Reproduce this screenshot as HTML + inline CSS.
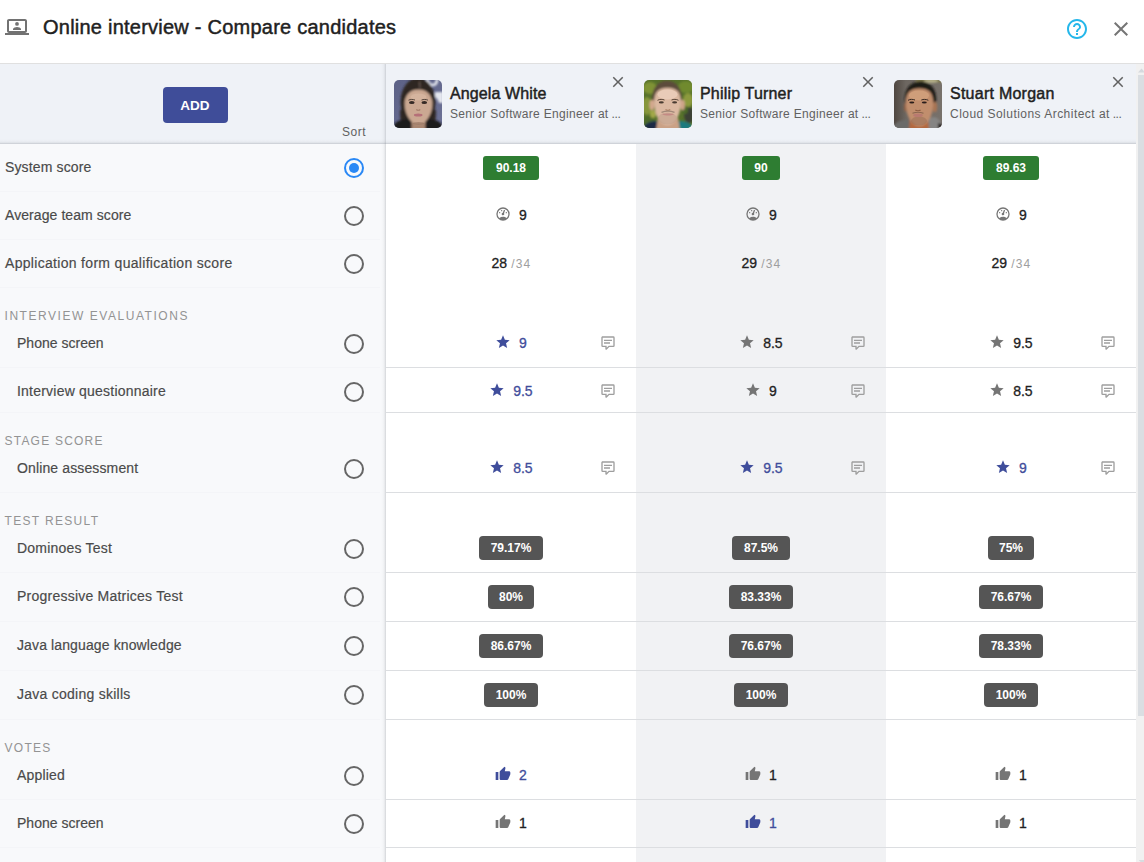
<!DOCTYPE html>
<html lang="en">
<head>
<meta charset="utf-8">
<title>Online interview - Compare candidates</title>
<style>
*{box-sizing:border-box;margin:0;padding:0}
html,body{width:1144px;height:862px;overflow:hidden;background:#fff}
body{position:relative;font-family:"Liberation Sans",sans-serif;font-size:14px;color:#212121}
.abs{position:absolute}
svg{display:block;position:absolute}
.t{position:absolute;white-space:nowrap;line-height:1}
/* title bar */
#title{left:43px;top:17px;font-size:20px;color:#212121;-webkit-text-stroke:.45px #212121;letter-spacing:.235px}
#topline{left:0;top:63px;width:1144px;height:1px;background:#e0e0e0}
/* header band */
#hdr{left:0;top:64px;width:1136px;height:80px;background:#eff2f7}
#hdrshadow{left:0;top:139px;width:1136px;height:5px;background:linear-gradient(to bottom,rgba(90,96,104,0) 0%,rgba(90,96,104,.008) 10%,rgba(90,96,104,.02) 30%,rgba(90,96,104,.045) 50%,rgba(90,96,104,.095) 70%,rgba(90,96,104,.21) 90%,rgba(90,96,104,.21) 100%)}
/* panels */
#left{left:0;top:144px;width:386px;height:718px;background:#f8f9fb}
#vshadow{left:381px;top:64px;width:5px;height:798px;background:linear-gradient(to right,rgba(90,96,104,0) 0%,rgba(90,96,104,.008) 10%,rgba(90,96,104,.02) 30%,rgba(90,96,104,.045) 50%,rgba(90,96,104,.095) 70%,rgba(90,96,104,.19) 90%,rgba(90,96,104,.19) 100%)}
#mid{left:636px;top:144px;width:250px;height:718px;background:#f1f2f4}
/* scrollbar */
#track{left:1136px;top:64px;width:8px;height:798px;background:#f1f1f1}
#thumb{left:1138px;top:75px;width:6px;height:641px;background:#dadee2}
.hl{position:absolute;left:386px;width:750px;height:1px;background:#dcdee1}
.ll{position:absolute;left:0;width:380px;height:1px;background:#f4f5f8}
/* left labels */
.lab{font-size:14px;color:#4a4a4a;-webkit-text-stroke:.18px #4a4a4a}
.sec{font-size:12px;color:#939393}
.radio{position:absolute;left:344px;width:20px;height:20px;border:2px solid #666;border-radius:50%}
.radio.on{border-color:#2a88f5}
.radio.on::after{content:"";position:absolute;left:3px;top:3px;width:10px;height:10px;border-radius:50%;background:#2a88f5}
/* header cards */
.name{font-size:16px;color:#212121;-webkit-text-stroke:.45px #212121}
.sub{font-size:12px;color:#616161}
.av{position:absolute;top:80px;width:48px;height:48px;border-radius:5px;overflow:hidden}
/* cells */
.gb{position:absolute;height:24px;border-radius:3px;background:#2e7d32;color:#fff;font-weight:bold;font-size:12px;line-height:24px;text-align:center}
.db{position:absolute;height:24px;border-radius:4px;background:#555;color:#fff;font-weight:bold;font-size:12px;line-height:24px;text-align:center}
.v{font-size:14px;color:#212121;-webkit-text-stroke:.3px #212121}
.v.b{color:#3f4d9b;-webkit-text-stroke:.3px #3f4d9b}
.d{font-size:12px;color:#9e9e9e}
</style>
</head>
<body>
<!-- title bar -->
<svg class="abs" style="left:5px;top:15px" width="24" height="24" viewBox="0 0 24 24"><path fill="#727272" fill-rule="evenodd" d="M4 6H20V16H4ZM20 18C21.110 18 22 17.110 22 16V6C22 4.890 21.110 4 20 4H4C2.890 4 2 4.890 2 6V16C2 17.110 2.900 18 4 18H0V20H24V18Z"/><circle cx="12" cy="8.900" r="1.900" fill="#727272"/><path fill="#727272" d="M8 15v-1c0-1.330 2.670-2 4-2s4 .670 4 2v1z"/></svg>
<div class="t" id="title">Online interview - Compare candidates</div>
<svg style="left:1065px;top:17px" width="24" height="24" viewBox="0 0 24 24"><path fill="#25b7ea" d="M11 18h2v-2h-2v2zm1-16C6.48 2 2 6.48 2 12s4.480 10 10 10 10-4.480 10-10S17.520 2 12 2zm0 18c-4.410 0-8-3.590-8-8s3.590-8 8-8 8 3.590 8 8-3.590 8-8 8zm0-14c-2.210 0-4 1.790-4 4h2c0-1.100.9-2 2-2s2 .9 2 2c0 2-3 1.750-3 5h2c0-2.250 3-2.500 3-5 0-2.210-1.790-4-4-4z"/></svg>
<svg style="left:1109px;top:17px" width="24" height="24" viewBox="0 0 24 24"><path fill="#757575" d="M19 6.410L17.590 5 12 10.590 6.410 5 5 6.410 10.590 12 5 17.590 6.410 19 12 13.410 17.590 19 19 17.590 13.410 12z"/></svg>
<div class="abs" id="topline"></div>

<!-- backgrounds -->
<div class="abs" id="left"></div>
<div class="abs" id="mid"></div>
<div class="abs" id="hdr"></div>
<div class="abs" id="hdrshadow"></div>
<div class="abs" id="vshadow"></div>
<div class="abs" id="track"></div>
<div class="abs" id="thumb"></div>
<svg style="left:1138px;top:68px" width="6" height="5" viewBox="0 0 6 5"><path fill="#d5d9de" d="M0 4.500L3.500 0.500L7 4.500z"/></svg>

<svg style="left:1138px;top:859px" width="6" height="3" viewBox="0 0 6 3"><path fill="#d8dce0" d="M.800 1h7L4.300 5z"/></svg>
<div class="hl" style="top:367px"></div><div class="hl" style="top:412px"></div><div class="hl" style="top:492px"></div><div class="hl" style="top:572px"></div><div class="hl" style="top:621px"></div><div class="hl" style="top:670px"></div><div class="hl" style="top:719px"></div><div class="hl" style="top:799px"></div><div class="hl" style="top:847px"></div><div class="ll" style="top:191px"></div><div class="ll" style="top:239px"></div><div class="ll" style="top:287px"></div><div class="ll" style="top:367px"></div><div class="ll" style="top:412px"></div><div class="ll" style="top:492px"></div><div class="ll" style="top:572px"></div><div class="ll" style="top:621px"></div><div class="ll" style="top:670px"></div><div class="ll" style="top:719px"></div><div class="ll" style="top:799px"></div><div class="ll" style="top:847px"></div>
<div class="av" style="left:394px"><svg style="left:0;top:0" width="48" height="48" viewBox="0 0 48 48"><defs><filter id="bl0" x="-20%" y="-20%" width="140%" height="140%"><feGaussianBlur stdDeviation=".9"/></filter><filter id="bs0" x="-20%" y="-20%" width="140%" height="140%"><feGaussianBlur stdDeviation=".45"/></filter><linearGradient id="ga" x1="0" y1="0" x2="1" y2="1"><stop offset="0" stop-color="#5c6186"/><stop offset=".6" stop-color="#666b90"/><stop offset="1" stop-color="#6e7296"/></linearGradient></defs>
<rect width="48" height="48" fill="url(#ga)"/>
<g filter="url(#bl0)">
 <path d="M33 -1c1 4 3 6 6 6s4-3 4-6" fill="none" stroke="#e9ebf2" stroke-width="2.600"/>
 <path d="M41 12h8v11h-4c-1-3-2-5-4-6z" fill="#e4e6ee"/>
 <ellipse cx="24" cy="22" rx="17.500" ry="24" fill="#2d2521"/>
 <path d="M6 30c0 8 1 14 2 19h32c1-5 2-11 2-19z" fill="#2f2723"/>
 <path d="M-2 50c1-7 6-10 14-11l24 0c8 1 13 4 14 11z" fill="#1d1d1f"/>
 <path d="M17.500 36h14v14h-14z" fill="#a88570"/>
 <path d="M24.500 9.500C17 9.500 11.500 14 10.600 22C10.300 30 13 37.500 18 42C21 44.800 28 44.800 31 42C36 37.500 38.700 30 38.400 22C37.500 14 32 9.500 24.500 9.500Z" fill="#cba892"/>
 <path d="M25.500 1.500l.5 7" stroke="#6b5a52" stroke-width="1.200"/>
</g>
<g filter="url(#bs0)">
 <ellipse cx="24.500" cy="17" rx="8" ry="3.500" fill="#d8b9a3" opacity=".7"/>
 <ellipse cx="17.800" cy="22.400" rx="2.800" ry="1.500" fill="#352925"/>
 <ellipse cx="30.300" cy="22.400" rx="2.800" ry="1.500" fill="#352925"/>
 <path d="M14.500 20.200c2-1 4.500-1 6.500-.2M27.500 20c2-.8 4.500-.8 6.500.2" stroke="#4a3a32" stroke-width=".9" fill="none"/>
 <path d="M22.300 29.500c1 .8 3 .8 4 0" stroke="#a37c68" stroke-width="1.100" fill="none"/>
 <ellipse cx="24.200" cy="35" rx="4.300" ry="1.500" fill="#b56f78"/>
 <ellipse cx="24.500" cy="43.500" rx="6" ry="1.400" fill="#8f6e5c" opacity=".55"/>
</g></svg></div><div class="t name" style="left:450px;top:85.800px;letter-spacing:0.112px">Angela White</div><div class="t sub" style="left:450px;top:107.500px;letter-spacing:0.312px">Senior Software Engineer at</div><div class="t sub" style="left:611.6px;top:107.500px;letter-spacing:-.4px">...</div><svg style="left:609px;top:73px" width="18" height="18" viewBox="0 0 24 24"><path fill="#616161" d="M19 6.410L17.590 5 12 10.590 6.410 5 5 6.410 10.590 12 5 17.590 6.410 19 12 13.410 17.590 19 19 17.590 13.410 12z"/></svg><div class="av" style="left:644px"><svg style="left:0;top:0" width="48" height="48" viewBox="0 0 48 48"><defs><filter id="bl1" x="-20%" y="-20%" width="140%" height="140%"><feGaussianBlur stdDeviation=".9"/></filter><filter id="bs1" x="-20%" y="-20%" width="140%" height="140%"><feGaussianBlur stdDeviation=".45"/></filter></defs>
<rect width="48" height="48" fill="#56712a"/>
<g filter="url(#bl1)">
 <ellipse cx="6" cy="8" rx="7" ry="6" fill="#7f9335"/>
 <ellipse cx="42" cy="7" rx="8" ry="6" fill="#6f8a2f"/>
 <ellipse cx="3" cy="26" rx="5" ry="9" fill="#86963a"/>
 <ellipse cx="44" cy="20" rx="5" ry="7" fill="#8c9a3c"/>
 <ellipse cx="5" cy="42" rx="6" ry="6" fill="#4d6a2a"/>
 <ellipse cx="9" cy="34" rx="3" ry="4" fill="#a3a848"/>
 <ellipse cx="45" cy="35" rx="5" ry="8" fill="#3a3f36"/>
 <ellipse cx="41" cy="30" rx="3" ry="4" fill="#4e6a2a"/>
 <path d="M-2 50c2-6 6-8 12-9l28 0c6 1 10 3 12 9z" fill="#1f7a7e"/>
 <path d="M-2 50c2-6 6-8 12-9l4 1 2 8z" fill="#1d2a44"/>
 <path d="M14 38h20l2 12H12z" fill="#caa186"/>
 <path d="M8.300 24C6.500 10 13 .8 23 .8S39.500 10 37.700 24z" fill="#5c4b3b"/>
 <ellipse cx="8" cy="25" rx="2.600" ry="5.200" fill="#d3a88e"/>
 <ellipse cx="38.500" cy="25" rx="2.400" ry="5.200" fill="#cfa48a"/>
 <path d="M23.500 7.800C15 7.800 10.600 12 10.200 20C10 27 11 33 14 38.500C17 43 20 45.300 23.500 45.300C27 45.300 30 43 33 38.500C36 33 37 27 36.800 20C36.400 12 32 7.800 23.500 7.800Z" fill="#dcb9a2"/>
</g>
<g filter="url(#bs1)">
 <ellipse cx="23.500" cy="14.500" rx="10" ry="5" fill="#ecd0bd" opacity=".8"/>
 <ellipse cx="23.500" cy="38.500" rx="9.500" ry="6" fill="#b79a88" opacity=".45"/>
 <ellipse cx="17.300" cy="22.400" rx="2.500" ry="1.100" fill="#4a3a30"/>
 <ellipse cx="30.600" cy="22.400" rx="2.500" ry="1.100" fill="#4a3a30"/>
 <path d="M13.500 20.300c2.200-1.200 5-1.200 7-.3M27.500 20c2-.9 4.800-.9 7 .3" stroke="#5a4436" stroke-width="1" fill="none"/>
 <path d="M21.500 29.500c1.200.9 3.600.9 4.800 0" stroke="#b08468" stroke-width="1.200" fill="none"/>
 <path d="M17.500 32.300c3.500-1.300 9.500-1.300 13 0" stroke="#a08878" stroke-width="1.300" fill="none"/>
 <path d="M18 34.200c3 1.800 9 1.800 12 0-3-.8-9-.8-12 0z" fill="#c48a84"/>
</g></svg></div><div class="t name" style="left:700px;top:85.800px;letter-spacing:0.181px">Philip Turner</div><div class="t sub" style="left:700px;top:107.500px;letter-spacing:0.312px">Senior Software Engineer at</div><div class="t sub" style="left:861.6px;top:107.500px;letter-spacing:-.4px">...</div><svg style="left:859px;top:73px" width="18" height="18" viewBox="0 0 24 24"><path fill="#616161" d="M19 6.410L17.590 5 12 10.590 6.410 5 5 6.410 10.590 12 5 17.590 6.410 19 12 13.410 17.590 19 19 17.590 13.410 12z"/></svg><div class="av" style="left:894px"><svg style="left:0;top:0" width="48" height="48" viewBox="0 0 48 48"><defs><filter id="bl2" x="-20%" y="-20%" width="140%" height="140%"><feGaussianBlur stdDeviation=".9"/></filter><filter id="bs2" x="-20%" y="-20%" width="140%" height="140%"><feGaussianBlur stdDeviation=".45"/></filter><linearGradient id="gs" x1="0" y1="0" x2="1" y2="0"><stop offset="0" stop-color="#4f4741"/><stop offset=".25" stop-color="#6d6761"/><stop offset="1" stop-color="#77716b"/></linearGradient></defs>
<rect width="48" height="48" fill="url(#gs)"/>
<g filter="url(#bl2)">
 <rect x="22" y="-2" width="28" height="4.500" fill="#7c774c"/>
 <ellipse cx="37" cy="1" rx="7" ry="1.800" fill="#b9b48c"/>
 <path d="M-2 50c2-7 6-9 12-10l28-2c6 1 10 4 12 12z" fill="#6b6a69"/>
 <path d="M33 38l8-1c4 2 7 5 8 13H33z" fill="#858483"/>
 <path d="M44 43l6 2v5h-6z" fill="#2a2422"/>
 <path d="M16 38h18l1 12H15z" fill="#b3693f"/>
 <path d="M11 24C9 10 16 1.600 26.500 1.600S44 10 41.800 25z" fill="#1f1a17"/>
 <ellipse cx="40.800" cy="27" rx="2.300" ry="5.200" fill="#a97453"/>
 <ellipse cx="11.500" cy="27" rx="1.600" ry="4.500" fill="#8f5f44"/>
 <path d="M25.300 8.200C17 8.200 12.200 12 11.800 21C11.700 29 13 35 16 40C19 44.300 22 46.300 25.300 46.300C28.600 46.300 32 44.300 35 40C38 35 39.200 29 39.200 21C38.800 12 34 8.200 25.300 8.200Z" fill="#c18e6d"/>
</g>
<g filter="url(#bs2)">
 <ellipse cx="25" cy="15.500" rx="10" ry="5" fill="#d3a27d" opacity=".8"/>
 <ellipse cx="25" cy="41" rx="8" ry="4.500" fill="#8a6450" opacity=".4"/>
 <ellipse cx="17.800" cy="22.500" rx="2.500" ry="1.100" fill="#2b1f1a"/>
 <ellipse cx="30.300" cy="22.500" rx="2.500" ry="1.100" fill="#2b1f1a"/>
 <path d="M14 20.300c2.200-1.200 5-1.200 7-.3M27.300 20c2-.9 4.800-.9 7 .3" stroke="#3a2a22" stroke-width="1" fill="none"/>
 <path d="M21.300 30c1.300.9 4 .9 5.300 0" stroke="#8f5f44" stroke-width="1.300" fill="none"/>
 <path d="M18.500 33.300c3-1.200 8-1.200 11 0" stroke="#8a6450" stroke-width="1.100" fill="none"/>
 <ellipse cx="24" cy="35.300" rx="4.800" ry="1.800" fill="#b97a70"/>
</g></svg></div><div class="t name" style="left:950px;top:85.800px;letter-spacing:0.251px">Stuart Morgan</div><div class="t sub" style="left:950px;top:107.500px;letter-spacing:0.468px">Cloud Solutions Architect at</div><div class="t sub" style="left:1112.7px;top:107.500px;letter-spacing:-.4px">...</div><svg style="left:1109px;top:73px" width="18" height="18" viewBox="0 0 24 24"><path fill="#616161" d="M19 6.410L17.590 5 12 10.590 6.410 5 5 6.410 10.590 12 5 17.590 6.410 19 12 13.410 17.590 19 19 17.590 13.410 12z"/></svg><div class="abs" style="left:163px;top:87px;width:65px;height:36px;border-radius:4px;background:#3f4d99"></div><div class="t" style="left:180.300px;top:98.900px;font-size:13.500px;font-weight:bold;color:#fff;{ls("ADD",13.5,31.4,True)}">ADD</div><div class="t" style="left:342px;top:126px;font-size:12px;color:#616161;letter-spacing:.55px">Sort</div>
<div class="t lab" style="left:5px;top:160px;letter-spacing:0.136px">System score</div><div class="radio on" style="top:158px"></div><div class="t lab" style="left:5px;top:208px;letter-spacing:0.075px">Average team score</div><div class="radio" style="top:206px"></div><div class="t lab" style="left:5px;top:256px;letter-spacing:0.310px">Application form qualification score</div><div class="radio" style="top:254px"></div><div class="t lab" style="left:17px;top:336px;letter-spacing:0.019px">Phone screen</div><div class="radio" style="top:334px"></div><div class="t lab" style="left:17px;top:384px;letter-spacing:0.219px">Interview questionnaire</div><div class="radio" style="top:382px"></div><div class="t lab" style="left:17px;top:461px;letter-spacing:0.128px">Online assessment</div><div class="radio" style="top:459px"></div><div class="t lab" style="left:17px;top:541px;letter-spacing:0.213px">Dominoes Test</div><div class="radio" style="top:539px"></div><div class="t lab" style="left:17px;top:589px;letter-spacing:0.232px">Progressive Matrices Test</div><div class="radio" style="top:587px"></div><div class="t lab" style="left:17px;top:638px;letter-spacing:0.122px">Java language knowledge</div><div class="radio" style="top:636px"></div><div class="t lab" style="left:17px;top:687px;letter-spacing:0.256px">Java coding skills</div><div class="radio" style="top:685px"></div><div class="t lab" style="left:17px;top:768px;letter-spacing:0.166px">Applied</div><div class="radio" style="top:766px"></div><div class="t lab" style="left:17px;top:816px;letter-spacing:0.019px">Phone screen</div><div class="radio" style="top:814px"></div><div class="t sec" style="left:4.500px;top:310px;letter-spacing:1.543px">INTERVIEW EVALUATIONS</div><div class="t sec" style="left:4.500px;top:435px;letter-spacing:1.221px">STAGE SCORE</div><div class="t sec" style="left:4.500px;top:515px;letter-spacing:1.326px">TEST RESULT</div><div class="t sec" style="left:4.500px;top:742px;letter-spacing:1.281px">VOTES</div>
<div class="gb" style="left:483px;top:156px;width:56px">90.18</div><div class="gb" style="left:742px;top:156px;width:38px">90</div><div class="gb" style="left:983px;top:156px;width:56px">89.63</div><svg style="left:495.0px;top:206.0px" width="16" height="16" viewBox="0 0 24 24"><path fill="#757575" d="M12,2A10,10 0 0,0 2,12A10,10 0 0,0 12,22A10,10 0 0,0 22,12A10,10 0 0,0 12,2M12,4A8,8 0 0,1 20,12C20,14.400 19,16.500 17.300,18C15.900,16.700 14,16 12,16C10,16 8.200,16.700 6.700,18C5,16.500 4,14.400 4,12A8,8 0 0,1 12,4M14,5.890C13.620,5.900 13.260,6.150 13.100,6.540L11.810,9.770L11.710,10C11,10.130 10.410,10.600 10.140,11.260C9.730,12.290 10.230,13.450 11.260,13.860C12.290,14.270 13.450,13.770 13.860,12.740C14.120,12.080 14,11.320 13.570,10.760L13.670,10.500L14.960,7.290L14.970,7.260C15.170,6.750 14.920,6.170 14.410,5.960C14.280,5.910 14.150,5.890 14,5.890M10,6A1,1 0 0,0 9,7A1,1 0 0,0 10,8A1,1 0 0,0 11,7A1,1 0 0,0 10,6M7,9A1,1 0 0,0 6,10A1,1 0 0,0 7,11A1,1 0 0,0 8,10A1,1 0 0,0 7,9M17,9A1,1 0 0,0 16,10A1,1 0 0,0 17,11A1,1 0 0,0 18,10A1,1 0 0,0 17,9Z"/></svg><div class="t v" style="left:519px;top:207.90px">9</div><svg style="left:745.0px;top:206.0px" width="16" height="16" viewBox="0 0 24 24"><path fill="#757575" d="M12,2A10,10 0 0,0 2,12A10,10 0 0,0 12,22A10,10 0 0,0 22,12A10,10 0 0,0 12,2M12,4A8,8 0 0,1 20,12C20,14.400 19,16.500 17.300,18C15.900,16.700 14,16 12,16C10,16 8.200,16.700 6.700,18C5,16.500 4,14.400 4,12A8,8 0 0,1 12,4M14,5.890C13.620,5.900 13.260,6.150 13.100,6.540L11.810,9.770L11.710,10C11,10.130 10.410,10.600 10.140,11.260C9.730,12.290 10.230,13.450 11.260,13.860C12.290,14.270 13.450,13.770 13.860,12.740C14.120,12.080 14,11.320 13.570,10.760L13.670,10.500L14.960,7.290L14.970,7.260C15.170,6.750 14.920,6.170 14.410,5.960C14.280,5.910 14.150,5.890 14,5.890M10,6A1,1 0 0,0 9,7A1,1 0 0,0 10,8A1,1 0 0,0 11,7A1,1 0 0,0 10,6M7,9A1,1 0 0,0 6,10A1,1 0 0,0 7,11A1,1 0 0,0 8,10A1,1 0 0,0 7,9M17,9A1,1 0 0,0 16,10A1,1 0 0,0 17,11A1,1 0 0,0 18,10A1,1 0 0,0 17,9Z"/></svg><div class="t v" style="left:769px;top:207.90px">9</div><svg style="left:995.0px;top:206.0px" width="16" height="16" viewBox="0 0 24 24"><path fill="#757575" d="M12,2A10,10 0 0,0 2,12A10,10 0 0,0 12,22A10,10 0 0,0 22,12A10,10 0 0,0 12,2M12,4A8,8 0 0,1 20,12C20,14.400 19,16.500 17.300,18C15.900,16.700 14,16 12,16C10,16 8.200,16.700 6.700,18C5,16.500 4,14.400 4,12A8,8 0 0,1 12,4M14,5.890C13.620,5.900 13.260,6.150 13.100,6.540L11.810,9.770L11.710,10C11,10.130 10.410,10.600 10.140,11.260C9.730,12.290 10.230,13.450 11.260,13.860C12.290,14.270 13.450,13.770 13.860,12.740C14.120,12.080 14,11.320 13.570,10.760L13.670,10.500L14.960,7.290L14.970,7.260C15.170,6.750 14.920,6.170 14.410,5.960C14.280,5.910 14.150,5.890 14,5.890M10,6A1,1 0 0,0 9,7A1,1 0 0,0 10,8A1,1 0 0,0 11,7A1,1 0 0,0 10,6M7,9A1,1 0 0,0 6,10A1,1 0 0,0 7,11A1,1 0 0,0 8,10A1,1 0 0,0 7,9M17,9A1,1 0 0,0 16,10A1,1 0 0,0 17,11A1,1 0 0,0 18,10A1,1 0 0,0 17,9Z"/></svg><div class="t v" style="left:1019px;top:207.90px">9</div><div class="t v" style="left:491.5px;top:256px">28</div><div class="t d" style="left:511.3px;top:258px;letter-spacing:1.1px">/34</div><div class="t v" style="left:741.5px;top:256px">29</div><div class="t d" style="left:761.3px;top:258px;letter-spacing:1.1px">/34</div><div class="t v" style="left:991.5px;top:256px">29</div><div class="t d" style="left:1011.3px;top:258px;letter-spacing:1.1px">/34</div><svg style="left:495.1px;top:334.2px" width="16" height="16" viewBox="0 0 24 24"><path fill="#3f4d9b" d="M12 17.270L18.180 21l-1.640-7.030L22 9.240l-7.190-.610L12 2 9.190 8.630 2 9.240l5.460 4.730L5.820 21z"/></svg><div class="t v b" style="left:519.07px;top:336.15px">9</div><svg style="left:600px;top:334.7px" width="16" height="16" viewBox="0 0 24 24"><path fill="#9e9e9e" d="M9,22A1,1 0 0,1 8,21V18H4A2,2 0 0,1 2,16V4C2,2.890 2.900,2 4,2H20A2,2 0 0,1 22,4V16A2,2 0 0,1 20,18H13.900L10.200,21.710C10,21.900 9.750,22 9.500,22V22H9M10,16V19.080L13.080,16H20V4H4V16H10M6,7H18V9H6V7M6,11H15V13H6V11Z"/></svg><svg style="left:739.2px;top:334.2px" width="16" height="16" viewBox="0 0 24 24"><path fill="#757575" d="M12 17.270L18.180 21l-1.640-7.030L22 9.240l-7.190-.610L12 2 9.190 8.630 2 9.240l5.460 4.730L5.820 21z"/></svg><div class="t v" style="left:763.19px;top:336.15px">8.5</div><svg style="left:850px;top:334.7px" width="16" height="16" viewBox="0 0 24 24"><path fill="#9e9e9e" d="M9,22A1,1 0 0,1 8,21V18H4A2,2 0 0,1 2,16V4C2,2.890 2.900,2 4,2H20A2,2 0 0,1 22,4V16A2,2 0 0,1 20,18H13.900L10.200,21.710C10,21.900 9.750,22 9.500,22V22H9M10,16V19.080L13.080,16H20V4H4V16H10M6,7H18V9H6V7M6,11H15V13H6V11Z"/></svg><svg style="left:989.2px;top:334.2px" width="16" height="16" viewBox="0 0 24 24"><path fill="#757575" d="M12 17.270L18.180 21l-1.640-7.030L22 9.240l-7.190-.610L12 2 9.190 8.630 2 9.240l5.460 4.730L5.820 21z"/></svg><div class="t v" style="left:1013.19px;top:336.15px">9.5</div><svg style="left:1100px;top:334.7px" width="16" height="16" viewBox="0 0 24 24"><path fill="#9e9e9e" d="M9,22A1,1 0 0,1 8,21V18H4A2,2 0 0,1 2,16V4C2,2.890 2.900,2 4,2H20A2,2 0 0,1 22,4V16A2,2 0 0,1 20,18H13.900L10.200,21.710C10,21.900 9.750,22 9.500,22V22H9M10,16V19.080L13.080,16H20V4H4V16H10M6,7H18V9H6V7M6,11H15V13H6V11Z"/></svg><svg style="left:489.2px;top:382.2px" width="16" height="16" viewBox="0 0 24 24"><path fill="#3f4d9b" d="M12 17.270L18.180 21l-1.640-7.030L22 9.240l-7.190-.610L12 2 9.190 8.630 2 9.240l5.460 4.730L5.820 21z"/></svg><div class="t v b" style="left:513.19px;top:384.15px">9.5</div><svg style="left:600px;top:382.7px" width="16" height="16" viewBox="0 0 24 24"><path fill="#9e9e9e" d="M9,22A1,1 0 0,1 8,21V18H4A2,2 0 0,1 2,16V4C2,2.890 2.900,2 4,2H20A2,2 0 0,1 22,4V16A2,2 0 0,1 20,18H13.900L10.200,21.710C10,21.900 9.750,22 9.500,22V22H9M10,16V19.080L13.080,16H20V4H4V16H10M6,7H18V9H6V7M6,11H15V13H6V11Z"/></svg><svg style="left:745.1px;top:382.2px" width="16" height="16" viewBox="0 0 24 24"><path fill="#757575" d="M12 17.270L18.180 21l-1.640-7.030L22 9.240l-7.190-.610L12 2 9.190 8.630 2 9.240l5.460 4.730L5.820 21z"/></svg><div class="t v" style="left:769.07px;top:384.15px">9</div><svg style="left:850px;top:382.7px" width="16" height="16" viewBox="0 0 24 24"><path fill="#9e9e9e" d="M9,22A1,1 0 0,1 8,21V18H4A2,2 0 0,1 2,16V4C2,2.890 2.900,2 4,2H20A2,2 0 0,1 22,4V16A2,2 0 0,1 20,18H13.900L10.200,21.710C10,21.900 9.750,22 9.500,22V22H9M10,16V19.080L13.080,16H20V4H4V16H10M6,7H18V9H6V7M6,11H15V13H6V11Z"/></svg><svg style="left:989.2px;top:382.2px" width="16" height="16" viewBox="0 0 24 24"><path fill="#757575" d="M12 17.270L18.180 21l-1.640-7.030L22 9.240l-7.190-.610L12 2 9.190 8.630 2 9.240l5.460 4.730L5.820 21z"/></svg><div class="t v" style="left:1013.19px;top:384.15px">8.5</div><svg style="left:1100px;top:382.7px" width="16" height="16" viewBox="0 0 24 24"><path fill="#9e9e9e" d="M9,22A1,1 0 0,1 8,21V18H4A2,2 0 0,1 2,16V4C2,2.890 2.900,2 4,2H20A2,2 0 0,1 22,4V16A2,2 0 0,1 20,18H13.900L10.200,21.710C10,21.900 9.750,22 9.500,22V22H9M10,16V19.080L13.080,16H20V4H4V16H10M6,7H18V9H6V7M6,11H15V13H6V11Z"/></svg><svg style="left:489.2px;top:459.2px" width="16" height="16" viewBox="0 0 24 24"><path fill="#3f4d9b" d="M12 17.270L18.180 21l-1.640-7.030L22 9.240l-7.190-.610L12 2 9.190 8.630 2 9.240l5.460 4.730L5.820 21z"/></svg><div class="t v b" style="left:513.19px;top:461.15px">8.5</div><svg style="left:600px;top:459.7px" width="16" height="16" viewBox="0 0 24 24"><path fill="#9e9e9e" d="M9,22A1,1 0 0,1 8,21V18H4A2,2 0 0,1 2,16V4C2,2.890 2.900,2 4,2H20A2,2 0 0,1 22,4V16A2,2 0 0,1 20,18H13.900L10.200,21.710C10,21.900 9.750,22 9.500,22V22H9M10,16V19.080L13.080,16H20V4H4V16H10M6,7H18V9H6V7M6,11H15V13H6V11Z"/></svg><svg style="left:739.2px;top:459.2px" width="16" height="16" viewBox="0 0 24 24"><path fill="#3f4d9b" d="M12 17.270L18.180 21l-1.640-7.030L22 9.240l-7.190-.610L12 2 9.190 8.630 2 9.240l5.460 4.730L5.820 21z"/></svg><div class="t v b" style="left:763.19px;top:461.15px">9.5</div><svg style="left:850px;top:459.7px" width="16" height="16" viewBox="0 0 24 24"><path fill="#9e9e9e" d="M9,22A1,1 0 0,1 8,21V18H4A2,2 0 0,1 2,16V4C2,2.890 2.900,2 4,2H20A2,2 0 0,1 22,4V16A2,2 0 0,1 20,18H13.900L10.200,21.710C10,21.900 9.750,22 9.500,22V22H9M10,16V19.080L13.080,16H20V4H4V16H10M6,7H18V9H6V7M6,11H15V13H6V11Z"/></svg><svg style="left:995.1px;top:459.2px" width="16" height="16" viewBox="0 0 24 24"><path fill="#3f4d9b" d="M12 17.270L18.180 21l-1.640-7.030L22 9.240l-7.190-.610L12 2 9.190 8.630 2 9.240l5.460 4.730L5.820 21z"/></svg><div class="t v b" style="left:1019.07px;top:461.15px">9</div><svg style="left:1100px;top:459.7px" width="16" height="16" viewBox="0 0 24 24"><path fill="#9e9e9e" d="M9,22A1,1 0 0,1 8,21V18H4A2,2 0 0,1 2,16V4C2,2.890 2.900,2 4,2H20A2,2 0 0,1 22,4V16A2,2 0 0,1 20,18H13.900L10.200,21.710C10,21.900 9.750,22 9.500,22V22H9M10,16V19.080L13.080,16H20V4H4V16H10M6,7H18V9H6V7M6,11H15V13H6V11Z"/></svg><div class="db" style="left:479px;top:536px;width:64px">79.17%</div><div class="db" style="left:732px;top:536px;width:58px">87.5%</div><div class="db" style="left:988px;top:536px;width:46px">75%</div><div class="db" style="left:488px;top:585px;width:46px">80%</div><div class="db" style="left:729px;top:585px;width:64px">83.33%</div><div class="db" style="left:979px;top:585px;width:64px">76.67%</div><div class="db" style="left:479px;top:634px;width:64px">86.67%</div><div class="db" style="left:729px;top:634px;width:64px">76.67%</div><div class="db" style="left:979px;top:634px;width:64px">78.33%</div><div class="db" style="left:484px;top:683px;width:54px">100%</div><div class="db" style="left:734px;top:683px;width:54px">100%</div><div class="db" style="left:984px;top:683px;width:54px">100%</div><svg style="left:495.0px;top:766.0px" width="16" height="16" viewBox="0 0 24 24"><path fill="#3f4d9b" d="M1 21h4V9H1v12zm22-11c0-1.100-.9-2-2-2h-6.310l.950-4.570.030-.320c0-.410-.170-.790-.440-1.060L14.170 1 7.590 7.590C7.220 7.950 7 8.450 7 9v10c0 1.100.9 2 2 2h9c.830 0 1.540-.5 1.840-1.220l3.020-7.050c.090-.230.140-.470.140-.730v-2z"/></svg><div class="t v b" style="left:519px;top:768.05px">2</div><svg style="left:745.0px;top:766.0px" width="16" height="16" viewBox="0 0 24 24"><path fill="#757575" d="M1 21h4V9H1v12zm22-11c0-1.100-.9-2-2-2h-6.310l.950-4.570.030-.320c0-.410-.170-.790-.440-1.060L14.170 1 7.590 7.590C7.220 7.950 7 8.450 7 9v10c0 1.100.9 2 2 2h9c.830 0 1.540-.5 1.840-1.220l3.020-7.050c.090-.230.140-.470.140-.730v-2z"/></svg><div class="t v" style="left:769px;top:768.05px">1</div><svg style="left:995.0px;top:766.0px" width="16" height="16" viewBox="0 0 24 24"><path fill="#757575" d="M1 21h4V9H1v12zm22-11c0-1.100-.9-2-2-2h-6.310l.950-4.570.030-.320c0-.410-.170-.790-.440-1.060L14.170 1 7.590 7.590C7.220 7.950 7 8.450 7 9v10c0 1.100.9 2 2 2h9c.830 0 1.540-.5 1.840-1.220l3.020-7.050c.090-.230.140-.470.140-.730v-2z"/></svg><div class="t v" style="left:1019px;top:768.05px">1</div><svg style="left:495.0px;top:814.0px" width="16" height="16" viewBox="0 0 24 24"><path fill="#757575" d="M1 21h4V9H1v12zm22-11c0-1.100-.9-2-2-2h-6.310l.950-4.570.030-.320c0-.410-.170-.790-.440-1.060L14.170 1 7.590 7.590C7.220 7.950 7 8.450 7 9v10c0 1.100.9 2 2 2h9c.830 0 1.540-.5 1.840-1.220l3.020-7.050c.090-.230.140-.470.140-.730v-2z"/></svg><div class="t v" style="left:519px;top:816.05px">1</div><svg style="left:745.0px;top:814.0px" width="16" height="16" viewBox="0 0 24 24"><path fill="#3f4d9b" d="M1 21h4V9H1v12zm22-11c0-1.100-.9-2-2-2h-6.310l.950-4.570.030-.320c0-.410-.170-.790-.440-1.060L14.170 1 7.590 7.590C7.220 7.950 7 8.450 7 9v10c0 1.100.9 2 2 2h9c.830 0 1.540-.5 1.840-1.220l3.020-7.050c.090-.230.140-.470.140-.730v-2z"/></svg><div class="t v b" style="left:769px;top:816.05px">1</div><svg style="left:995.0px;top:814.0px" width="16" height="16" viewBox="0 0 24 24"><path fill="#757575" d="M1 21h4V9H1v12zm22-11c0-1.100-.9-2-2-2h-6.310l.950-4.570.030-.320c0-.410-.170-.790-.440-1.060L14.170 1 7.590 7.590C7.220 7.950 7 8.450 7 9v10c0 1.100.9 2 2 2h9c.830 0 1.540-.5 1.840-1.220l3.020-7.050c.090-.230.140-.470.140-.730v-2z"/></svg><div class="t v" style="left:1019px;top:816.05px">1</div>
</body>
</html>
